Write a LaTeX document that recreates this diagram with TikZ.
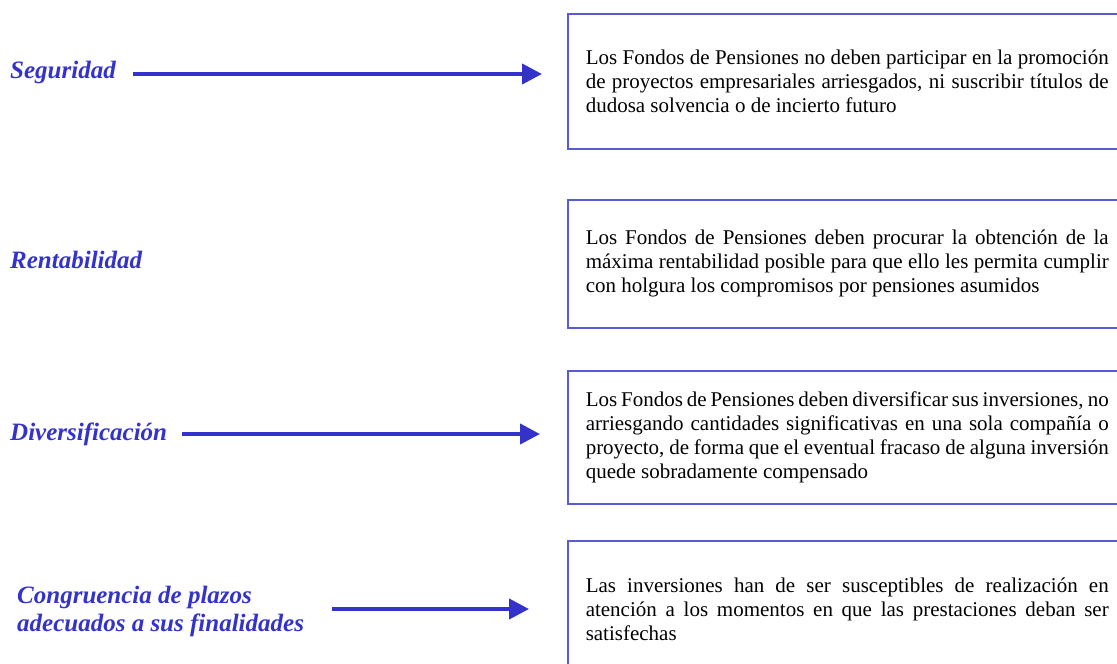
\documentclass[tikz,border=0pt]{standalone}
\usepackage{fontspec}
\setmainfont{Liberation Serif}
\usetikzlibrary{arrows.meta}
\definecolor{azul}{RGB}{51,51,204}
\definecolor{borde}{RGB}{90,90,210}

\begin{document}
\begin{tikzpicture}[x=1pt, y=-1pt,
        etiq/.style={anchor=west, inner sep=0pt, text=azul, align=left, font={\fontsize{25}{28}\selectfont\bfseries\itshape}},
        caja/.style={draw=borde, line width=1.5pt, anchor=north west, inner xsep=18pt, text width=523pt, align=justify, font={\fontsize{21}{24}\selectfont\hyphenpenalty=10000}},
        flecha/.style={draw=azul, line width=4pt, -{Triangle[length=20pt, width=20pt]}}]
    \clip (0,0) rectangle (1117,664);
    \node[caja, minimum height=135pt] (tseg) at (567,13) {Los Fondos de Pensiones no deben participar en la promoción de proyectos empresariales arriesgados, ni suscribir títulos de dudosa solvencia o de incierto futuro};
    \node[caja, minimum height=128pt] (tren) at (567,199) {Los Fondos de Pensiones deben procurar la obtención de la máxima rentabilidad posible para que ello les permita cumplir con holgura los compromisos por pensiones asumidos};
    \node[caja, minimum height=133pt] (tdiv) at (567,370) {Los Fondos de Pensiones deben diversificar sus inversiones, no arriesgando cantidades significativas en una sola compañía o proyecto, de forma que el eventual fracaso de alguna inversión quede sobradamente compensado};
    \node[caja, minimum height=138pt] (tcon) at (567,540) {Las inversiones han de ser susceptibles de realización en atención a los momentos en que las prestaciones deban ser satisfechas};
    \node[etiq] (seg) at (10,72) {Seguridad};
    \node[etiq] (ren) at (10,260) {Rentabilidad};
    \node[etiq] (div) at (10,434) {Diversificación};
    \node[etiq] (con) at (17,611) {Congruencia de plazos\\adecuados a sus finalidades};
    \draw[flecha, shorten >=25pt] ([xshift=17pt, yshift=-2pt]seg.east) -- ([yshift=-2pt]seg.east -| tseg.west);
    \draw[flecha, shorten >=27pt] ([xshift=15pt]div.east) -- (div.east -| tdiv.west);
    \draw[flecha, shorten >=38pt] ([xshift=28pt, yshift=2pt]con.east) -- ([yshift=2pt]con.east -| tcon.west);
\end{tikzpicture}
\end{document}
